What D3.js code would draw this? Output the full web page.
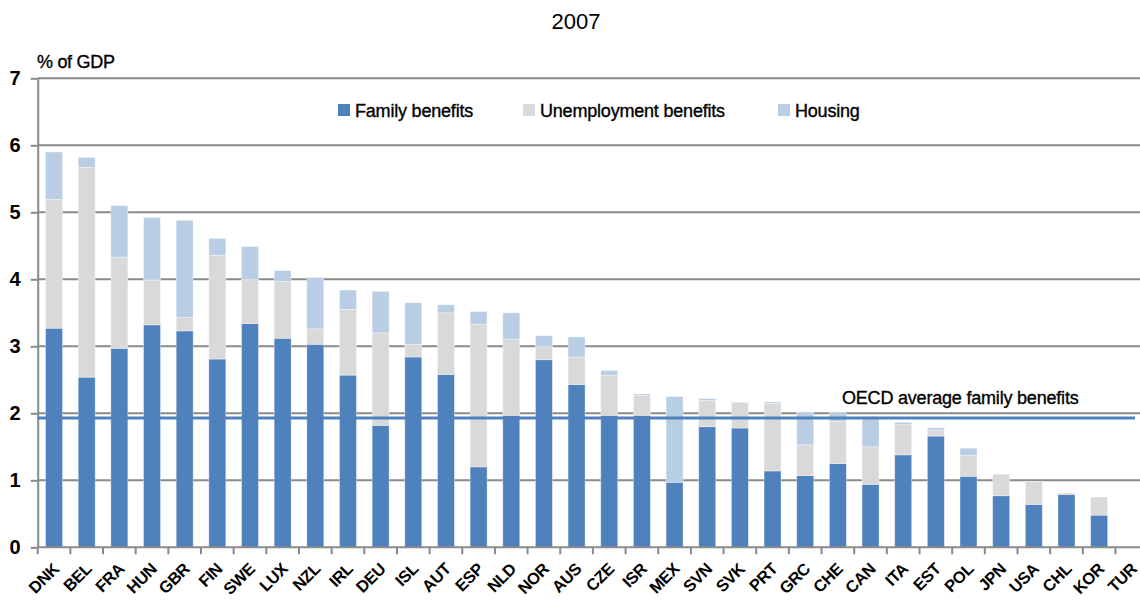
<!DOCTYPE html>
<html>
<head>
<meta charset="utf-8">
<script src="https://cdn.jsdelivr.net/npm/d3@7"></script>
<style>
  html, body { margin: 0; padding: 0; background: #fff; }
  svg { display: block; font-family: "Liberation Sans", Arial, sans-serif; }
</style>
</head>
<body>
<svg id="chart" width="1140" height="600"></svg>
<script>
const countries = ["DNK","BEL","FRA","HUN","GBR","FIN","SWE","LUX","NZL","IRL","DEU","ISL","AUT","ESP","NLD","NOR","AUS","CZE","ISR","MEX","SVN","SVK","PRT","GRC","CHE","CAN","ITA","EST","POL","JPN","USA","CHL","KOR","TUR"];
const familyBenefits = [3.27,2.54,2.97,3.32,3.23,2.81,3.34,3.12,3.03,2.57,1.82,2.84,2.58,1.20,1.97,2.80,2.43,1.97,1.97,0.97,1.80,1.78,1.14,1.07,1.25,0.94,1.38,1.66,1.06,0.77,0.64,0.79,0.48,0];
const unemploymentBenefits = [1.92,3.13,1.36,0.67,0.20,1.55,0.66,0.85,0.23,0.98,1.38,0.19,0.92,2.13,1.14,0.20,0.41,0.60,0.30,0,0.39,0.385,1.01,0.46,0.63,0.56,0.45,0.09,0.31,0.32,0.34,0.02,0.27,0];
const housing = [0.71,0.15,0.77,0.93,1.45,0.25,0.49,0.16,0.77,0.29,0.62,0.62,0.12,0.19,0.39,0.16,0.30,0.07,0.02,1.28,0.03,0,0.02,0.49,0.13,0.45,0.035,0.035,0.11,0,0,0,0,0];
const oecdAverageFamily = 1.93;
const yTicks = [0,1,2,3,4,5,6,7];
const seriesNames = ["Family benefits","Unemployment benefits","Housing"];
const title = "2007";
const yAxisTitle = "% of GDP";
const avgLabel = "OECD average family benefits";

const colors = ["#4F81BD", "#D9D9D9", "#B9CDE5"];
const keys = ["family","unemployment","housing"];
const table = countries.map((c, i) => ({
  country: c, family: familyBenefits[i], unemployment: unemploymentBenefits[i], housing: housing[i]
}));

const svg = d3.select("#chart");
const x0 = 37.7, step = 32.66;
const x = d3.scaleBand().domain(countries)
  .range([x0, x0 + step * countries.length])
  .paddingInner(0.48).paddingOuter(0.24);
const y = d3.scaleLinear().domain([0, 7]).range([547.3, 78.3]);

const grey = "#8a8a8a";

// Title
svg.append("text").attr("x", 576).attr("y", 29).attr("text-anchor", "middle")
  .attr("font-size", 22).attr("fill", "#000").text(title);

// y axis title
svg.append("text").attr("x", 37).attr("y", 68).attr("font-size", 18)
  .attr("fill", "#000").attr("stroke", "#000").attr("stroke-width", 0.35)
  .attr("letter-spacing", -0.3).text(yAxisTitle);

// gridlines
svg.append("g").selectAll("line").data(yTicks.filter(t => t > 0)).join("line")
  .attr("x1", x0).attr("x2", 1148)
  .attr("y1", d => y(d)).attr("y2", d => y(d))
  .attr("stroke", grey).attr("stroke-width", 2);

// stacked bars
const stack = d3.stack().keys(keys);
const series = stack(table);
svg.append("g").selectAll("g").data(series).join("g")
  .attr("fill", (d, i) => colors[i])
  .selectAll("rect").data(d => d).join("rect")
  .attr("x", d => x(d.data.country))
  .attr("width", x.bandwidth())
  .attr("y", d => y(d[1]))
  .attr("height", d => Math.max(0, y(d[0]) - y(d[1])))
  .attr("stroke", "#ffffff").attr("stroke-opacity", 0.45).attr("stroke-width", 0.8);

// left axis
const yAxis = d3.axisLeft(y).tickValues(yTicks).tickSize(7).tickSizeOuter(0).tickFormat(d3.format("d"));
const gy = svg.append("g").attr("transform", `translate(${x0},0)`).call(yAxis);
gy.select(".domain").attr("stroke", grey).attr("stroke-width", 2);
gy.selectAll(".tick line").attr("stroke", grey).attr("stroke-width", 2);
gy.selectAll(".tick text").attr("x", -17).attr("font-size", 20).attr("font-weight", "bold")
  .attr("font-family", "Liberation Sans, Arial, sans-serif").attr("fill", "#000");

// bottom axis with ticks at band boundaries
svg.append("line").attr("x1", x0).attr("x2", 1148).attr("y1", y(0)).attr("y2", y(0))
  .attr("stroke", grey).attr("stroke-width", 2);
const bounds = d3.range(countries.length + 1).map(i => x0 + i * x.step());
svg.append("g").selectAll("line").data(bounds).join("line")
  .attr("x1", d => d).attr("x2", d => d)
  .attr("y1", y(0)).attr("y2", y(0) + 7)
  .attr("stroke", grey).attr("stroke-width", 2);

// x labels
svg.append("g").selectAll("text").data(countries).join("text")
  .attr("transform", d => `translate(${x(d) + x.bandwidth() / 2 + 6},570) rotate(-45)`)
  .attr("text-anchor", "end").attr("font-size", 16.5).attr("font-weight", "bold")
  .attr("letter-spacing", -0.4).attr("fill", "#000").text(d => d);

// OECD average line
svg.append("line").attr("x1", x0).attr("x2", 1135)
  .attr("y1", y(oecdAverageFamily)).attr("y2", y(oecdAverageFamily))
  .attr("stroke", "#4F81BD").attr("stroke-width", 3);
svg.append("text").attr("x", 842).attr("y", 404).attr("font-size", 18)
  .attr("fill", "#000").attr("stroke", "#000").attr("stroke-width", 0.35)
  .attr("letter-spacing", -0.2).text(avgLabel);

// legend
const legendX = [338, 523, 778];
const lg = svg.append("g").selectAll("g").data(seriesNames).join("g")
  .attr("transform", (d, i) => `translate(${legendX[i]},104)`);
lg.append("rect").attr("width", 12).attr("height", 12).attr("fill", (d, i) => colors[i]);
lg.append("text").attr("x", 17).attr("y", 13).attr("font-size", 18)
  .attr("fill", "#000").attr("stroke", "#000").attr("stroke-width", 0.35)
  .attr("letter-spacing", -0.2).text(d => d);
</script>
</body>
</html>
